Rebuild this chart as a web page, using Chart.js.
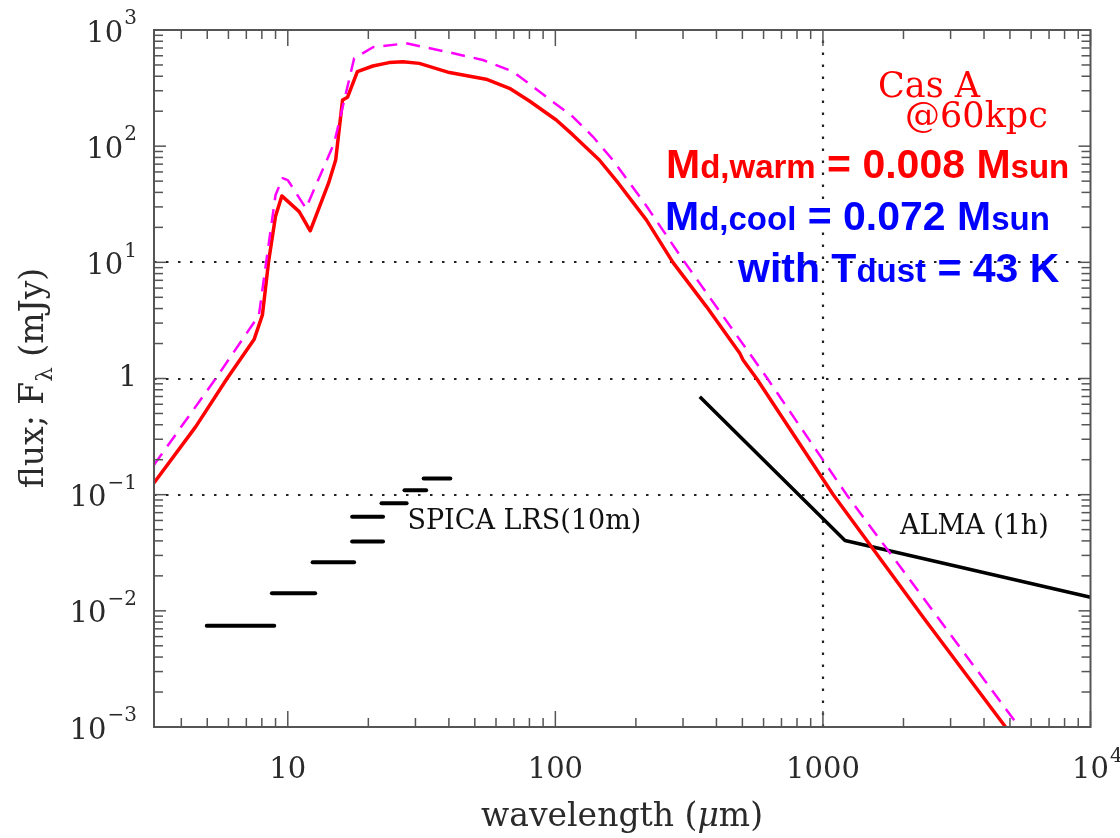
<!DOCTYPE html>
<html><head><meta charset="utf-8">
<script src="https://cdn.jsdelivr.net/npm/chart.js@4.4.1/dist/chart.umd.min.js"></script>
<style>html,body{margin:0;padding:0;background:#fff;}#wrap{width:1120px;height:838px;}</style>
</head><body><div id="wrap"><canvas id="c" width="1120" height="838"></canvas></div>
<script>
// ---- data (wavelength in micron, flux in mJy) ----
const warmWavelength = [3.16, 4.53, 5.93, 7.49, 8.04, 8.47, 9.0, 9.5, 11.03, 12.13, 14.2, 15.1, 16.02, 16.73, 18.2, 20.8, 23.9, 26.9, 31, 40.2, 55.1, 67.4, 80, 100.8, 116.3, 146, 172, 218.8, 275, 367, 489, 503, 565, 1093, 2407, 4815];
const warmFlux       = [0.126, 0.385, 1.0, 2.18, 3.53, 10, 25, 37.3, 27.3, 18.7, 48, 76, 250, 264, 438, 490, 524, 534, 516, 430, 377, 315, 245, 168, 125, 76, 48, 23.2, 10, 4.16, 1.65, 1.445, 1.0, 0.1, 0.00838, 0.001];
const totalWavelength = [3.16, 5.38, 7.8, 8.3, 9.0, 9.56, 10, 11.69, 14.9, 17.7, 20.8, 27.7, 39, 53.6, 69.3, 92.5, 116.3, 138, 164, 218, 300, 620, 1226, 5414];
const totalFlux       = [0.18, 1.0, 3.5, 10, 38, 53, 51, 29.2, 106, 570, 710, 768, 651, 552, 440, 266, 179, 121, 76, 31, 10.5, 1.0, 0.1, 0.001];
const almaWavelength = [346.5, 1209, 10000];
const almaFlux       = [0.698, 0.0403, 0.0131];
const spicaStart = [4.98, 8.72, 12.38, 17.4, 17.4, 22.4, 27.3, 32.2];
const spicaEnd   = [8.9, 12.66, 17.7, 22.7, 22.7, 27.8, 32.9, 40.5];
const spicaFlux  = [0.00743, 0.0142, 0.0262, 0.0395, 0.0644, 0.0845, 0.109, 0.138];
const xTickValues = [10, 100, 1000, 10000];
const xTickLabels = ['10', '100', '1000', '10^4'];
const yTickValues = [1e-3, 1e-2, 1e-1, 1, 10, 100, 1000];
const yTickLabels = ['10^-3', '10^-2', '10^-1', '1', '10^1', '10^2', '10^3'];
const gridFluxLevels = [0.1, 1, 10];
const gridWavelengths = [1000];
const xTitleParts = ['wavelength (', '\u03bc', 'm)'];
const yTitleParts = ['flux; F', '\u03bb', ' (mJy)'];

const serif = '"DejaVu Serif", serif';
const sans = '"Liberation Sans", Arial, sans-serif';

const pts = (xs, ys) => xs.map((x, i) => ({x: x, y: ys[i]}));
const datasets = [
  {data: pts(totalWavelength, totalFlux), borderColor: '#ff00ff', borderWidth: 2.5, borderDash: [14, 9]},
  {data: pts(warmWavelength, warmFlux), borderColor: '#ff0000', borderWidth: 3.5},
  {data: pts(almaWavelength, almaFlux), borderColor: '#000000', borderWidth: 3.5}
];
spicaStart.forEach((s, i) => {
  datasets.push({data: [{x: s, y: spicaFlux[i]}, {x: spicaEnd[i], y: spicaFlux[i]}], borderColor: '#000000', borderWidth: 4, borderCapStyle: 'round'});
});
datasets.forEach(d => { d.showLine = true; d.pointRadius = 0; d.tension = 0; d.fill = false; d.borderJoinStyle = 'round'; });

function logTicks(min, max) {
  const major = [], minor = [];
  for (let e = Math.floor(Math.log10(min)) ; e <= Math.ceil(Math.log10(max)); e++) {
    for (let m = 1; m < 10; m++) {
      const v = m * Math.pow(10, e);
      if (v < min * 0.999 || v > max * 1.001) continue;
      (m === 1 ? major : minor).push(v);
    }
  }
  return {major, minor};
}
function splitLabel(t) {
  const i = t.indexOf('^');
  if (i < 0) return [t, ''];
  return [t.slice(0, i), t.slice(i + 1).replace('-', '\u2212')];
}
function drawRuns(ctx, x, y, runs, color) {
  ctx.fillStyle = color; ctx.textAlign = 'left'; ctx.textBaseline = 'alphabetic';
  runs.forEach(r => {
    ctx.font = 'bold ' + r[1] + 'px ' + sans;
    ctx.fillText(r[0], x, y);
    x += ctx.measureText(r[0]).width;
  });
}

const TB = 29, TE = 20;
const deco = {
  id: 'deco',
  beforeDatasetsDraw(chart) {
    const {ctx, chartArea: a, scales: {x, y}} = chart;
    ctx.save();
    ctx.strokeStyle = '#222'; ctx.lineWidth = 2.2; ctx.setLineDash([2.5, 9.5]);
    gridFluxLevels.forEach(v => {
      const py = Math.round(y.getPixelForValue(v));
      ctx.beginPath(); ctx.moveTo(a.left, py); ctx.lineTo(a.right, py); ctx.stroke();
    });
    gridWavelengths.forEach(v => {
      const px = Math.round(x.getPixelForValue(v));
      ctx.beginPath(); ctx.moveTo(px, a.bottom); ctx.lineTo(px, a.top); ctx.stroke();
    });
    ctx.restore();
  },
  afterDatasetsDraw(chart) {
    const {ctx, chartArea: a, scales: {x, y}} = chart;
    ctx.save();
    // frame
    ctx.strokeStyle = '#555'; ctx.lineWidth = 2;
    ctx.strokeRect(a.left, a.top, a.right - a.left, a.bottom - a.top);
    // ticks
    ctx.lineWidth = 1.5;
    const xt = logTicks(x.min, x.max), yt = logTicks(y.min, y.max);
    const tick = (x1, y1, x2, y2) => { ctx.beginPath(); ctx.moveTo(x1, y1); ctx.lineTo(x2, y2); ctx.stroke(); };
    xt.major.forEach(v => { const p = x.getPixelForValue(v); tick(p, a.bottom, p, a.bottom - 16); tick(p, a.top, p, a.top + 16); });
    xt.minor.forEach(v => { const p = x.getPixelForValue(v); tick(p, a.bottom, p, a.bottom - 9); tick(p, a.top, p, a.top + 9); });
    yt.major.forEach(v => { const p = y.getPixelForValue(v); tick(a.left, p, a.left + 12, p); tick(a.right, p, a.right - 12, p); });
    yt.minor.forEach(v => { const p = y.getPixelForValue(v); tick(a.left, p, a.left + 9, p); tick(a.right, p, a.right - 9, p); });
    // tick labels
    ctx.fillStyle = '#2a2a2a'; ctx.textBaseline = 'middle';
    yTickValues.forEach((v, i) => {
      const [b, e] = splitLabel(yTickLabels[i]);
      const p = y.getPixelForValue(v);
      ctx.font = TB + 'px ' + serif; const wb = ctx.measureText(b).width;
      ctx.font = TE + 'px ' + serif; const we = e ? ctx.measureText(e).width + 1 : 0;
      const x0 = a.left - 17 - wb - we;
      ctx.textAlign = 'left';
      ctx.font = TB + 'px ' + serif; ctx.fillText(b, x0, p + (e ? 4 : 0));
      if (e) { ctx.font = TE + 'px ' + serif; ctx.fillText(e, x0 + wb + 1, p - 11); }
    });
    xTickValues.forEach((v, i) => {
      const [b, e] = splitLabel(xTickLabels[i]);
      const p = x.getPixelForValue(v);
      ctx.font = TB + 'px ' + serif; const wb = ctx.measureText(b).width;
      ctx.textAlign = 'left';
      ctx.fillText(b, p - wb / 2, a.bottom + 43);
      if (e) { ctx.font = TE + 'px ' + serif; ctx.fillText(e, p + wb / 2 + 1, a.bottom + 30); }
    });
    // axis titles
    ctx.textBaseline = 'alphabetic'; ctx.textAlign = 'left';
    const TT = 33;
    ctx.font = TT + 'px ' + serif; const a1 = ctx.measureText(xTitleParts[0]).width, a3 = ctx.measureText(xTitleParts[2]).width;
    ctx.font = 'italic ' + TT + 'px ' + serif; const a2 = ctx.measureText(xTitleParts[1]).width;
    let tx = 622 - (a1 + a2 + a3) / 2;
    ctx.font = TT + 'px ' + serif; ctx.fillText(xTitleParts[0], tx, 826); tx += a1;
    ctx.font = 'italic ' + TT + 'px ' + serif; ctx.fillText(xTitleParts[1], tx, 826); tx += a2;
    ctx.font = TT + 'px ' + serif; ctx.fillText(xTitleParts[2], tx, 826);
    ctx.save();
    ctx.translate(43, 378);
    ctx.rotate(-Math.PI / 2);
    ctx.font = TT + 'px ' + serif; const w1 = ctx.measureText(yTitleParts[0]).width;
    const w3 = ctx.measureText(yTitleParts[2]).width;
    ctx.font = '23px ' + serif; const w2 = ctx.measureText(yTitleParts[1]).width;
    let sx = -(w1 + w2 + w3) / 2;
    ctx.font = TT + 'px ' + serif; ctx.fillText(yTitleParts[0], sx, 0); sx += w1;
    ctx.font = '23px ' + serif; ctx.fillText(yTitleParts[1], sx, 9); sx += w2;
    ctx.font = TT + 'px ' + serif; ctx.fillText(yTitleParts[2], sx, 0);
    ctx.restore();
    // in-plot labels
    ctx.fillStyle = '#111'; ctx.font = '27px ' + serif; ctx.textAlign = 'left'; ctx.textBaseline = 'middle';
    ctx.fillText('SPICA LRS(10m)', x.getPixelForValue(28), y.getPixelForValue(0.0583));
    ctx.fillText('ALMA (1h)', x.getPixelForValue(1941), y.getPixelForValue(0.0528));
    ctx.fillStyle = '#ff0000'; ctx.font = '35px ' + serif; ctx.textBaseline = 'alphabetic';
    ctx.fillText('Cas A', x.getPixelForValue(1607), y.getPixelForValue(265));
    ctx.fillText('@60kpc', x.getPixelForValue(2028), y.getPixelForValue(146));
    drawRuns(ctx, 666, 178, [['M', 41], ['d,warm', 33], [' = 0.008 M', 41], ['sun', 33]], '#ff0000');
    drawRuns(ctx, 665, 230, [['M', 41], ['d,cool', 33], [' = 0.072 M', 41], ['sun', 33]], '#0000ff');
    drawRuns(ctx, 738, 282, [['with T', 41], ['dust', 33], [' = 43 K', 41]], '#0000ff');
    ctx.restore();
  }
};

new Chart(document.getElementById('c'), {
  type: 'scatter',
  data: {datasets: datasets},
  options: {
    responsive: false, animation: false, devicePixelRatio: 1,
    layout: {padding: {left: 154, right: 29.5, top: 30, bottom: 111}},
    plugins: {legend: {display: false}, tooltip: {enabled: false}},
    scales: {
      x: {type: 'logarithmic', min: Math.pow(10, 0.5), max: 10000, display: false},
      y: {type: 'logarithmic', min: 0.001, max: 1000, display: false}
    }
  },
  plugins: [deco]
});
</script></body></html>
